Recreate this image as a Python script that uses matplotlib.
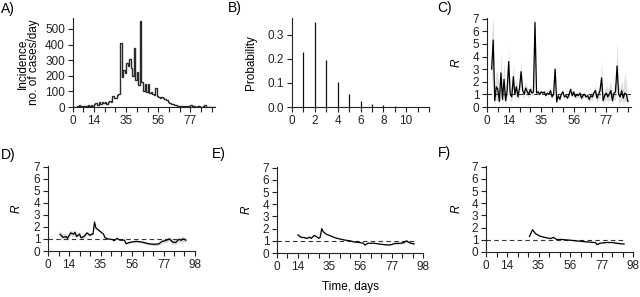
import numpy as np
import matplotlib
matplotlib.use("Agg")
import matplotlib.pyplot as plt

plt.rcParams['font.family'] = ['Liberation Sans', 'DejaVu Sans']
plt.rcParams['font.size'] = 8.5

# A) daily incidence, days 0..92
inc_days = list(range(93))
incidence = [2, 3, 2, 5, 12, 4, 3, 6, 4, 8,
             10, 7, 12, 9, 20, 28, 15, 30, 22, 35,
             25, 30, 20, 30, 40, 35, 70, 60, 55, 75,
             85, 410, 195, 240, 220, 280, 265, 305, 250, 200,
             375, 175, 225, 140, 550, 160, 100, 145, 95, 150,
             90, 95, 85, 80, 120, 70, 65, 55, 62, 58,
             50, 45, 35, 28, 22, 18, 12, 10, 8, 6,
             5, 7, 5, 4, 3, 5, 4, 12, 6, 4,
             3, 5, 4, 3, 2, 4, 10, 3, 2, 3,
             2, 1, 1]

# B) serial interval distribution
si_days = [1, 2, 3, 4, 5, 6, 7, 8, 9, 10]
si_prob = [0.23, 0.355, 0.197, 0.104, 0.052, 0.026, 0.013, 0.007, 0.003, 0.001]

# C) daily R estimates with credible interval, days 3..91
c_days = list(range(3, 92))
c_r = [3.0, 5.3, 0.5, 1.6, 1.4, 0.45, 2.7, 0.6, 2.2, 0.5,
       1.3, 3.6, 1.0, 0.8, 2.4, 1.0, 1.6, 0.8, 1.5, 2.8,
       1.3, 1.0, 1.5, 1.2, 1.0, 1.4, 1.1, 1.2, 6.7, 1.1,
       1.2, 1.0, 1.2, 1.1, 1.2, 0.9, 1.1, 1.0, 1.3, 0.8,
       1.0, 3.0, 0.4, 0.9, 0.6, 1.0, 1.2, 0.8, 0.9, 0.7,
       1.0, 1.4, 0.9, 1.2, 0.8, 1.0, 0.9, 1.1, 0.7, 0.9,
       1.0, 0.8, 0.9, 0.6, 0.9, 0.8, 1.1, 1.3, 0.7, 1.0,
       1.3, 2.3, 0.5, 0.9, 1.1, 0.8, 1.0, 1.3, 0.5, 1.1,
       1.2, 3.25, 1.0, 0.8, 1.3, 0.7, 1.1, 1.0, 0.45]
c_lo = [1.5, 3.5, 0.1, 0.6, 0.5, 0.1, 1.3, 0.1, 1.1, 0.1,
        0.6, 2.5, 0.5, 0.4, 1.6, 0.5, 1.0, 0.4, 1.0, 2.1,
        0.9, 0.7, 1.1, 0.9, 0.7, 1.1, 0.9, 1.0, 6.1, 1.0,
        1.1, 0.9, 1.1, 1.0, 1.1, 0.8, 1.0, 0.9, 1.2, 0.7,
        0.9, 2.7, 0.3, 0.8, 0.5, 0.9, 1.0, 0.7, 0.8, 0.6,
        0.8, 1.2, 0.7, 1.0, 0.6, 0.8, 0.7, 0.9, 0.5, 0.7,
        0.8, 0.6, 0.7, 0.4, 0.6, 0.5, 0.8, 0.9, 0.4, 0.6,
        0.8, 1.5, 0.2, 0.5, 0.6, 0.4, 0.5, 0.7, 0.2, 0.5,
        0.6, 2.0, 0.4, 0.3, 0.6, 0.2, 0.5, 0.4, 0.1]
c_hi = [5.5, 7.3, 1.8, 2.9, 2.6, 1.3, 4.3, 1.5, 3.6, 1.3,
        2.3, 4.8, 1.6, 1.4, 3.4, 1.6, 2.3, 1.3, 2.1, 3.5,
        1.8, 1.4, 1.9, 1.6, 1.3, 1.7, 1.4, 1.4, 7.1, 1.2,
        1.3, 1.1, 1.3, 1.2, 1.3, 1.0, 1.2, 1.1, 1.4, 0.9,
        1.1, 3.3, 0.5, 1.0, 0.7, 1.1, 1.4, 0.9, 1.0, 0.8,
        1.2, 1.6, 1.1, 1.4, 1.0, 1.2, 1.1, 1.3, 0.9, 1.1,
        1.2, 1.0, 1.1, 0.8, 1.2, 1.1, 1.4, 1.7, 1.0, 1.4,
        1.8, 3.7, 0.9, 1.4, 1.7, 1.4, 1.7, 2.0, 1.0, 1.8,
        2.0, 5.3, 1.8, 1.5, 2.2, 1.4, 2.8, 1.9, 1.0]

# D) weekly-window R
d_days = [8, 10, 12, 13, 15, 17, 18, 19, 21, 22, 24, 26, 28, 29, 30, 31, 32, 34,
          36, 37, 38, 40, 43, 44, 46, 48, 49, 51, 52, 54, 56, 59, 62, 64, 67, 71,
          74, 76, 78, 81, 83, 85, 87, 89, 90, 92]
d_r = [1.4, 1.13, 1.2, 1.05, 1.5, 1.4, 1.55, 1.2, 1.4, 1.1, 1.2, 1.5, 1.3, 1.4, 1.4,
       2.4, 1.9, 1.7, 1.5, 1.4, 1.1, 1.0, 0.95, 0.85, 1.05, 0.9, 0.9, 0.9, 0.6, 0.7,
       0.75, 0.8, 0.75, 0.7, 0.6, 0.55, 0.6, 0.8, 0.85, 1.0, 0.75, 0.7, 0.95, 0.9,
       1.0, 0.9]
d_lo = [1.1, 0.9, 1.0, 0.85, 1.3, 1.2, 1.35, 1.05, 1.25, 0.97, 1.08, 1.38, 1.2, 1.3,
        1.32, 2.3, 1.82, 1.63, 1.45, 1.35, 1.06, 0.96, 0.91, 0.81, 1.0, 0.86, 0.85,
        0.85, 0.55, 0.64, 0.68, 0.72, 0.66, 0.6, 0.5, 0.45, 0.48, 0.66, 0.7, 0.83,
        0.58, 0.52, 0.75, 0.7, 0.78, 0.7]
d_hi = [1.7, 1.4, 1.45, 1.3, 1.75, 1.6, 1.75, 1.38, 1.58, 1.25, 1.35, 1.65, 1.42, 1.52,
        1.5, 2.5, 1.98, 1.77, 1.56, 1.45, 1.15, 1.04, 0.99, 0.89, 1.1, 0.95, 0.95,
        0.95, 0.66, 0.77, 0.83, 0.89, 0.85, 0.8, 0.72, 0.68, 0.74, 0.96, 1.02, 1.2,
        0.95, 0.9, 1.17, 1.12, 1.25, 1.12]

# E) longer window R
e_days = [14, 16, 18, 20, 22, 23, 25, 27, 28, 29, 30, 31, 33, 36, 39, 42, 46, 49, 52,
          56, 58, 59, 61, 65, 68, 71, 75, 77, 79, 83, 85, 87, 88, 90, 92]
e_r = [1.48, 1.3, 1.27, 1.2, 1.3, 1.2, 1.45, 1.3, 1.2, 1.3, 2.0, 1.75, 1.55, 1.4,
       1.25, 1.15, 1.05, 1.0, 0.9, 0.85, 0.8, 0.65, 0.8, 0.8, 0.75, 0.7, 0.65, 0.7,
       0.78, 0.8, 0.85, 1.0, 0.9, 0.8, 0.75]
e_lo = [1.38, 1.22, 1.2, 1.14, 1.24, 1.15, 1.4, 1.26, 1.16, 1.27, 1.96, 1.72, 1.52,
        1.38, 1.23, 1.13, 1.03, 0.98, 0.88, 0.83, 0.77, 0.62, 0.77, 0.76, 0.71, 0.66,
        0.6, 0.64, 0.72, 0.73, 0.77, 0.9, 0.8, 0.7, 0.65]
e_hi = [1.58, 1.38, 1.34, 1.26, 1.36, 1.25, 1.5, 1.34, 1.24, 1.33, 2.04, 1.78, 1.58,
        1.42, 1.27, 1.17, 1.07, 1.02, 0.92, 0.87, 0.83, 0.68, 0.83, 0.84, 0.79, 0.74,
        0.7, 0.76, 0.84, 0.87, 0.93, 1.1, 1.0, 0.9, 0.85]

# F) longest window R
f_days = [29, 31, 33, 36, 39, 43, 45, 47, 50, 55, 59, 63, 67, 70, 73, 74, 76, 80, 84,
          87, 92]
f_r = [1.28, 1.83, 1.5, 1.3, 1.2, 1.1, 1.2, 1.03, 1.03, 0.98, 0.93, 0.88, 0.83, 0.8,
       0.78, 0.6, 0.72, 0.78, 0.78, 0.72, 0.65]
f_lo = [1.25, 1.8, 1.48, 1.28, 1.18, 1.08, 1.18, 1.01, 1.01, 0.96, 0.91, 0.86, 0.81,
        0.78, 0.75, 0.57, 0.69, 0.75, 0.74, 0.68, 0.6]
f_hi = [1.31, 1.86, 1.52, 1.32, 1.22, 1.12, 1.22, 1.05, 1.05, 1.0, 0.95, 0.9, 0.85,
        0.82, 0.81, 0.63, 0.75, 0.81, 0.82, 0.76, 0.7]

day_labels = {0: '0', 14: '14', 35: '35', 56: '56', 77: '77', 98: '98'}

W, H = 640, 297
fig = plt.figure(figsize=(W / 100, H / 100), dpi=100)


def box(x0, x1, ytop, ybot):
    return [x0 / W, 1 - ybot / H, (x1 - x0) / W, (ybot - ytop) / H]


def style(ax):
    for s in ['top', 'right']:
        ax.spines[s].set_visible(False)
    for s in ['left', 'bottom']:
        ax.spines[s].set_linewidth(0.8)
        ax.spines[s].set_color('#222222')
    ax.tick_params(direction='out', length=3.5, width=0.8, pad=2, colors='#222222')


def day_axis(ax, xmax, last_tick):
    ticks = list(range(0, last_tick + 1, 7))
    ax.set_xticks(ticks)
    ax.set_xticklabels([day_labels.get(t, '') for t in ticks])
    ax.set_xlim(0, xmax)


def r_axis(ax, xpos):
    ax.set_ylim(0, 7.05)
    ax.set_yticks(range(8))
    ax.set_ylabel('R', fontstyle='italic')
    ax.yaxis.set_label_coords(xpos, 0.5)


# A
axA = fig.add_axes(box(72.5, 215, 18, 107))
style(axA)
edges = np.arange(len(inc_days) + 1)
axA.stairs(incidence, edges, baseline=0, color='#2a2a2a', linewidth=1.0)
axA.set_ylim(0, 570)
axA.set_yticks([0, 100, 200, 300, 400, 500])
day_axis(axA, 93, 91)
axA.set_ylabel('Incidence,\nno. of cases/day', linespacing=1.0)
axA.yaxis.set_label_coords(-0.225, 0.5)

# B
axB = fig.add_axes(box(292, 429, 18, 107))
style(axB)
axB.vlines(si_days, 0, si_prob, color='#111111', linewidth=0.9)
axB.set_ylim(0, 0.37)
axB.set_yticks([0.0, 0.1, 0.2, 0.3])
axB.set_yticklabels(['0.0', '0.1', '0.2', '0.3'])
axB.set_xlim(0, 12)
axB.set_xticks(range(13))
axB.set_xticklabels([str(t) if t % 2 == 0 and t <= 10 else '' for t in range(13)])
axB.set_ylabel('Probability')
axB.yaxis.set_label_coords(-0.255, 0.5)

# C
axC = fig.add_axes(box(487, 631, 18, 107))
style(axC)
axC.fill_between(c_days, c_lo, c_hi, color='#dedede', linewidth=0)
axC.plot([0, 93], [1, 1], color='#333333', linewidth=0.8, linestyle=(0, (4, 3)))
axC.plot(c_days, c_r, color='black', linewidth=0.9)
r_axis(axC, -0.17)
day_axis(axC, 93, 91)

# D, E, F
for box_px, days, r, lo, hi, lx in [
        ((48, 195, 166, 251), d_days, d_r, d_lo, d_hi, -0.17),
        ((277, 423, 167, 253), e_days, e_r, e_lo, e_hi, -0.165),
        ((486, 633, 166, 252), f_days, f_r, f_lo, f_hi, -0.158)]:
    ax = fig.add_axes(box(*box_px))
    style(ax)
    ax.fill_between(days, lo, hi, color='#d6d6d6', linewidth=0)
    ax.plot([0, 93], [1, 1], color='#333333', linewidth=0.8, linestyle=(0, (4, 3)))
    ax.plot(days, r, color='black', linewidth=0.9)
    r_axis(ax, lx)
    day_axis(ax, 98, 98)
    if days is e_days:
        ax.set_xlabel('Time, days', labelpad=6)

# panel letters
for lab, x, y in [('A)', 1, 9), ('B)', 228, 8), ('C)', 437, 8),
                  ('D)', 1, 155), ('E)', 212, 154), ('F)', 438, 153)]:
    fig.text(x / W, 1 - y / H, lab, ha='left', va='center', fontsize=10)

fig.savefig('out.png', dpi=100)
